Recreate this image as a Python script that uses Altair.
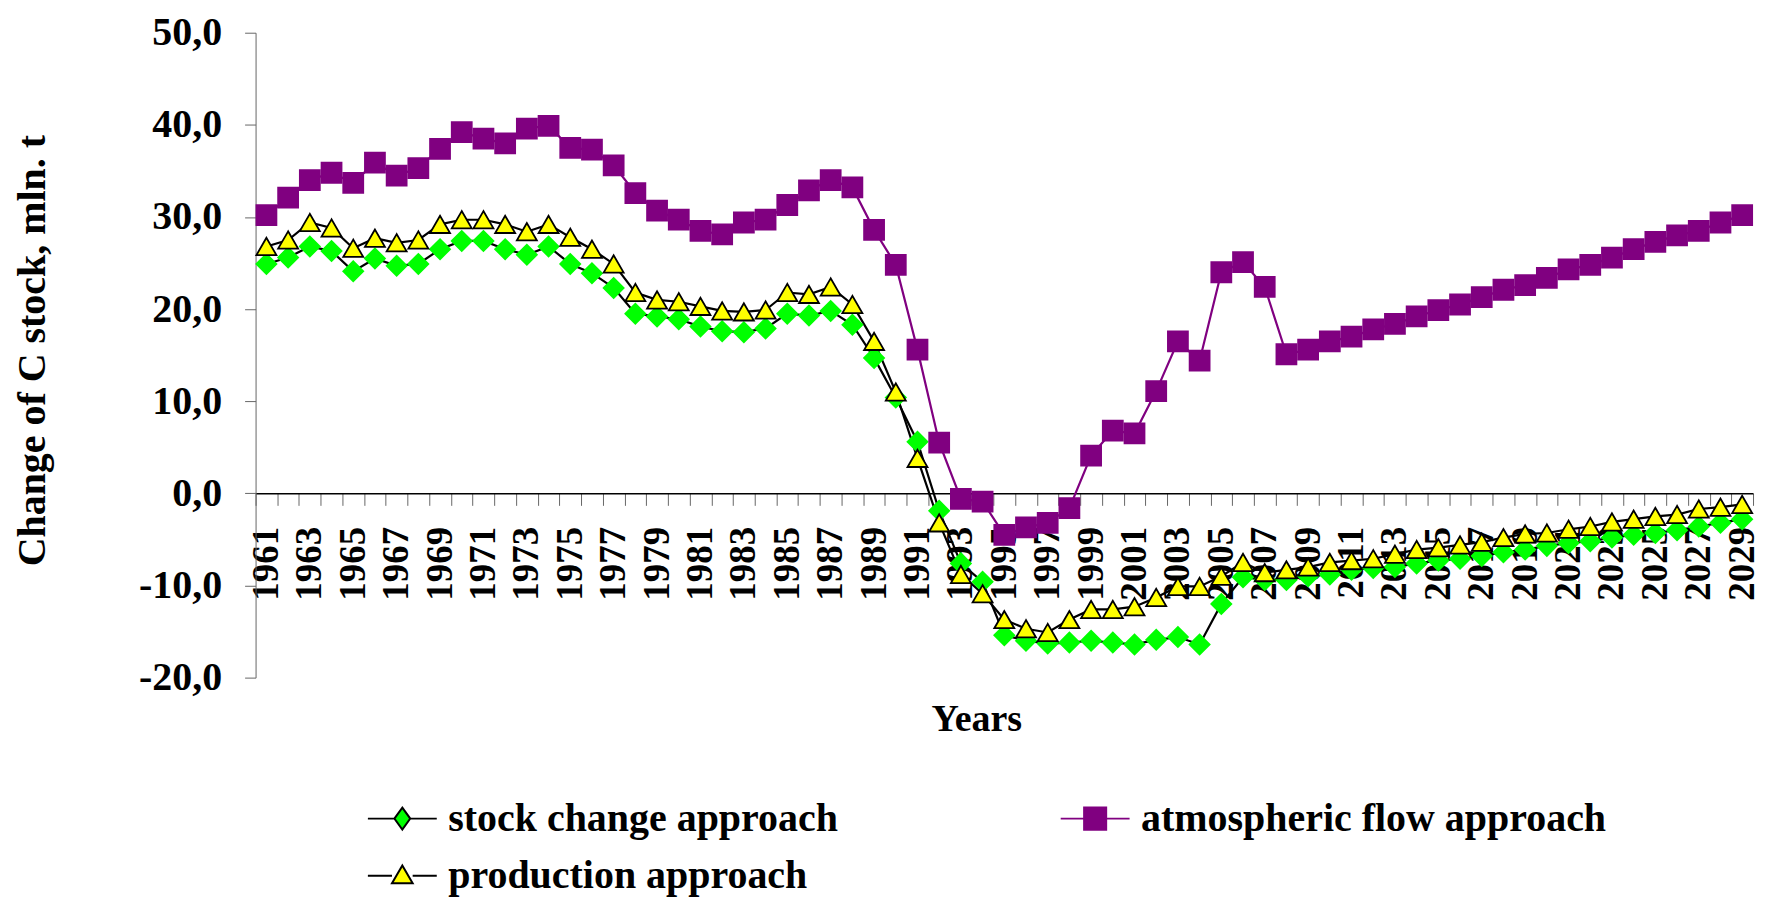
import altair as alt
import pandas as pd

years = list(range(1961, 2030))

stock_change = [
    24.9, 25.6, 26.8, 26.3, 24.1, 25.5, 24.7, 24.9, 26.5, 27.4,
    27.4, 26.5, 25.9, 26.8, 24.9, 23.9, 22.3, 19.5, 19.2, 18.9,
    18.1, 17.6, 17.5, 17.9, 19.5, 19.3, 19.8, 18.3, 14.7, 10.4,
    5.6, -1.9, -7.6, -9.6, -15.4, -16.0, -16.3, -16.2, -16.0, -16.2,
    -16.4, -15.9, -15.6, -16.4, -12.0, -9.1, -9.4, -9.4, -9.0, -8.8,
    -8.3, -8.1, -8.0, -7.6, -7.3, -7.1, -6.8, -6.4, -6.1, -5.7,
    -5.4, -5.2, -4.8, -4.5, -4.3, -4.0, -3.6, -3.2, -2.8,
]

atmospheric_flow = [
    30.2, 32.1, 34.0, 34.8, 33.7, 35.9, 34.5, 35.3, 37.4, 39.2,
    38.5, 38.0, 39.6, 39.9, 37.5, 37.3, 35.6, 32.6, 30.7, 29.7,
    28.5, 28.1, 29.4, 29.7, 31.3, 32.9, 34.0, 33.2, 28.6, 24.8,
    15.6, 5.5, -0.6, -0.9, -4.5, -3.7, -3.2, -1.6, 4.1, 6.8,
    6.5, 11.1, 16.5, 14.4, 24.0, 25.1, 22.4, 15.1, 15.6, 16.5,
    17.0, 17.8, 18.4, 19.2, 19.9, 20.5, 21.3, 22.1, 22.6, 23.4,
    24.3, 24.8, 25.6, 26.5, 27.3, 28.0, 28.5, 29.4, 30.2,
]

production = [
    26.8, 27.5, 29.4, 28.8, 26.6, 27.7, 27.2, 27.5, 29.2, 29.7,
    29.7, 29.2, 28.4, 29.2, 27.8, 26.5, 24.9, 21.8, 21.0, 20.8,
    20.3, 19.8, 19.7, 19.9, 21.8, 21.6, 22.4, 20.5, 16.5, 11.0,
    3.8, -3.2, -8.8, -10.9, -13.7, -14.7, -15.1, -13.7, -12.6, -12.6,
    -12.3, -11.3, -10.1, -10.1, -9.0, -7.5, -8.6, -8.3, -8.0, -7.5,
    -7.3, -7.1, -6.6, -6.1, -5.9, -5.6, -5.3, -4.8, -4.4, -4.3,
    -3.9, -3.6, -3.1, -2.8, -2.5, -2.3, -1.7, -1.5, -1.2,
]

series_names = ["stock change approach", "atmospheric flow approach", "production approach"]
line_colors = ["#000000", "#800080", "#000000"]
marker_shapes = ["diamond", "square", "triangle-up"]
marker_fills = ["#00FF00", "#800080", "#FFFF00"]
marker_strokes = ["#00FF00", "#800080", "#000000"]
# legend glyphs: a short line with the series marker in its middle
legend_shapes = [
    "M-1,0H-0.23M0.23,0H1M0,-0.32L0.23,0L0,0.32L-0.23,0Z",
    "M-1,0H1M-0.32,-0.32H0.32V0.32H-0.32Z",
    "M-1,0H-0.3M0.3,0H1M0,-0.3L0.3,0.22L-0.3,0.22Z",
]
legend_strokes = ["#000000", "#800080", "#000000"]
y_ticks = [-20, -10, 0, 10, 20, 30, 40, 50]

rows = []
for name, vals in zip(series_names, [stock_change, atmospheric_flow, production]):
    for yr, v in zip(years, vals):
        rows.append({"year": yr, "value": v, "series": name, "legend": name})
df = pd.DataFrame(rows)

FONT = "Liberation Serif"
W, H = 1500, 646
Y_MIN, Y_MAX = -20, 50
zero_offset = -H * (0 - Y_MIN) / (Y_MAX - Y_MIN)

x_enc = alt.X(
    "year:O",
    scale=alt.Scale(type="band", paddingInner=0, paddingOuter=0),
    bandPosition=0.5,
    axis=alt.Axis(
        title="Years",
        titleFont=FONT, titleFontSize=38, titleFontWeight="bold", titleColor="black",
        titleX=722, titleY=227, titleBaseline="middle", titleAlign="center",
        labelFont=FONT, labelFontSize=37, labelFontWeight="bold", labelColor="black",
        labelAngle=270, labelOverlap=False, labelPadding=21,
        labelExpr="datum.value % 2 == 1 ? datum.label : ''",
        tickBand="extent", tickSize=12, tickColor="#666666", tickWidth=1,
        domainColor="#000000", domainWidth=1.5,
        offset=zero_offset, grid=False,
    ),
)

y_enc = alt.Y(
    "value:Q",
    scale=alt.Scale(domain=[Y_MIN, Y_MAX], nice=False, zero=False),
    axis=alt.Axis(
        values=y_ticks,
        labelExpr="(datum.value < 0 ? '-' : '') + replace(format(abs(datum.value), '.1f'), '.', ',')",
        labelFont=FONT, labelFontSize=40, labelFontWeight="bold", labelColor="black",
        labelPadding=23, tickSize=11, tickColor="#666666", domainColor="#666666",
        grid=False,
        title="Change of C stock, mln. t",
        titleFont=FONT, titleFontSize=40, titleFontWeight="bold", titleColor="black",
        titleAngle=270, titleX=-223, titleY=318, titleBaseline="middle", titleAlign="center",
    ),
)

base = alt.Chart(df)

lines = base.mark_line(strokeWidth=2.2).encode(
    x=x_enc,
    y=y_enc,
    color=alt.Color("series:N", scale=alt.Scale(domain=series_names, range=line_colors), legend=None),
)

points = base.mark_point(filled=True, opacity=1, size=400, strokeWidth=1.8).encode(
    x=x_enc,
    y=y_enc,
    shape=alt.Shape("series:N", scale=alt.Scale(domain=series_names, range=marker_shapes), legend=None),
    stroke=alt.Stroke("series:N", scale=alt.Scale(domain=series_names, range=marker_strokes), legend=None),
    fill=alt.Fill("series:N", scale=alt.Scale(domain=series_names, range=marker_fills), legend=None),
)

legend_spec = dict(
    title=None,
    orient="none", legendX=111.5, legendY=751.5,
    direction="horizontal", columns=2, columnPadding=219, rowPadding=1.5,
    symbolSize=4761, symbolStrokeWidth=2, symbolOpacity=1,
    labelFont=FONT, labelFontSize=40, labelFontWeight="bold", labelColor="black",
    labelOffset=10.5, labelLimit=0,
)

legend_layer = base.mark_point(filled=True, opacity=0).encode(
    x=x_enc,
    y=y_enc,
    shape=alt.Shape("legend:N", scale=alt.Scale(domain=series_names, range=legend_shapes),
                    legend=alt.Legend(**legend_spec)),
    stroke=alt.Stroke("legend:N", scale=alt.Scale(domain=series_names, range=legend_strokes),
                      legend=alt.Legend(**legend_spec)),
    fill=alt.Fill("legend:N", scale=alt.Scale(domain=series_names, range=marker_fills),
                  legend=alt.Legend(**legend_spec)),
)

chart = (
    alt.layer(lines, points, legend_layer)
    .resolve_scale(shape="independent", fill="independent", stroke="independent")
    .properties(width=W, height=H, padding={"left": 5, "top": 4, "right": 2, "bottom": 0})
    .configure_view(stroke=None)
)

chart.save("out.html", embed_options={"renderer": "svg", "actions": False})
